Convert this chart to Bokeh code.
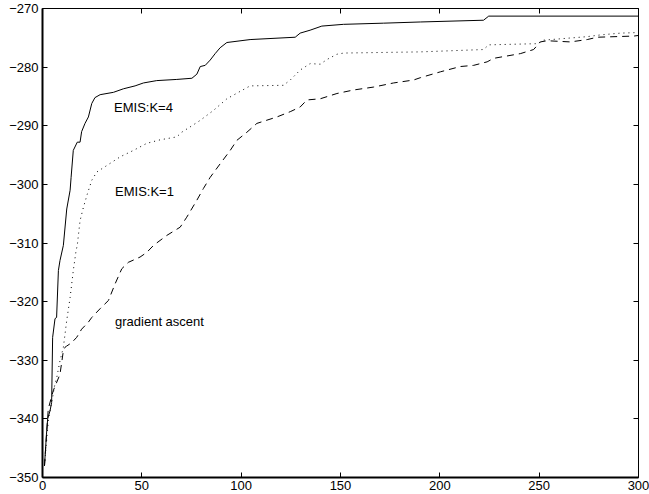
from bokeh.plotting import figure
from bokeh.models import Range1d, LinearAxis, FixedTicker, ColumnDataSource
from bokeh.core.properties import value
from bokeh.embed import file_html
from bokeh.resources import INLINE

# ---- data ----
k4_x = [1, 2, 2.6, 3.8, 4.6, 5.1, 6.3, 7.1, 8.0, 8.8, 10.5, 12.2, 13.9, 14.4, 15.5, 17.5, 18.9, 19.7,
        21.4, 23.1, 24.8, 26.4, 29, 35.7, 40.7, 46.6, 50.8, 57.5, 67.6, 75.2, 77.7, 79.4, 81.9, 84.4,
        86.9, 89.4, 92.8, 104.5, 127.2, 129.7, 134.7, 140.6, 151.5, 171.7, 190.2, 222, 224.6, 300]
k4_y = [-348, -342.6, -340, -338.6, -337.2, -326.1, -322.9, -322.7, -314.7, -313, -310.4, -304.2, -301,
        -298.8, -294.2, -292.8, -292.8, -291, -289.6, -288.5, -286.2, -285.2, -284.7, -284.3, -283.7,
        -283.2, -282.7, -282.3, -282.1, -281.9, -281.2, -279.9, -279.7, -278.8, -277.7, -276.7, -275.8,
        -275.3, -274.9, -274.2, -273.7, -273, -272.7, -272.5, -272.3, -272, -271.3, -271.3]

k1_x = [1, 3, 5, 6, 7.2, 8.8, 10.5, 12.2, 13.9, 15.5, 16.9, 17.5, 18.9, 20.6, 22.6, 24.8, 27.3, 32.3,
        39.1, 45.8, 52.5, 59.2, 67.6, 70.1, 74.3, 79.3, 86.0, 92.8, 99.7, 104.5, 121.3, 124.7, 129.7,
        134.7, 139.8, 143.2, 148.2, 151.6, 190.2, 222, 224.6, 249, 252.3, 274.2, 281, 291, 300]
k1_y = [-348, -340, -336.5, -334.5, -332.9, -330.1, -327.8, -323.2, -319.3, -314.7, -311.3, -310.4,
        -306.2, -303.9, -301.6, -299.3, -297.9, -296.8, -295.3, -294.2, -293.0, -292.4, -291.9, -291.1,
        -290.2, -289.1, -287.4, -285.4, -284.1, -283.2, -283.1, -282.2, -280.5, -279.4, -279.5, -278.7,
        -277.8, -277.6, -277.4, -277.0, -276.2, -276.0, -275.4, -274.8, -274.5, -274.2, -274.1]

ga_x = [1, 2.9, 5.4, 8.8, 10.5, 11.3, 12.1, 14.7, 17.2, 19.7, 23.1, 24.8, 29.0, 33.2, 36.5, 39.9, 43.2,
        49.1, 52.5, 55.9, 62.6, 69.3, 72.6, 77.7, 81.0, 84.4, 89.4, 94.5, 97.8, 102.9, 107.9, 118, 124.7,
        129.7, 133.1, 139.8, 148.2, 156.6, 166.7, 176.7, 186.8, 190.2, 200.3, 210.3, 217, 223.8, 227.1,
        240.5, 247.2, 250.6, 254, 265.7, 274.2, 279.2, 297.7, 300]
ga_y = [-348, -338.3, -335.2, -332.4, -328.4, -327.8, -327.6, -327.0, -326.1, -324.7, -323.5, -322.7,
        -321.2, -319.8, -317.0, -314.4, -313.3, -312.4, -311.6, -310.4, -308.7, -307.3, -305.6, -302.7,
        -300.7, -298.8, -296.5, -294.2, -292.5, -291.1, -289.6, -288.5, -287.6, -286.8, -285.6, -285.4,
        -284.5, -283.9, -283.4, -282.7, -282.2, -281.8, -280.8, -279.9, -279.7, -279.1, -278.5, -277.7,
        -277.0, -275.7, -275.5, -275.7, -275.3, -274.9, -274.7, -274.6]

x_ticks = [0, 50, 100, 150, 200, 250, 300]
y_ticks = [-350, -340, -330, -320, -310, -300, -290, -280, -270]
y_tick_labels = ["\u2212350", "\u2212340", "\u2212330", "\u2212320", "\u2212310",
                 "\u2212300", "\u2212290", "\u2212280", "\u2212270"]

label_texts = ["EMIS:K=4", "EMIS:K=1", "gradient ascent"]
label_x = [36.0, 36.5, 36.5]
label_y = [-286.9, -301.2, -323.4]

FONT = "Liberation Sans"

p = figure(width=649, height=494, output_backend="svg", toolbar_location=None,
           x_range=Range1d(0, 300), y_range=Range1d(-350, -270),
           x_axis_location=None, y_axis_location=None,
           min_border_left=42, min_border_right=11, min_border_top=8, min_border_bottom=17)
p.outline_line_color = None
p.xgrid.visible = False
p.ygrid.visible = False
p.background_fill_color = "white"
p.border_fill_color = "white"

def make_axis(ticks, show_labels, lw, overrides=None, standoff=4):
    ax = LinearAxis(ticker=FixedTicker(ticks=ticks))
    ax.major_tick_in = 5
    ax.major_tick_out = 0
    ax.minor_tick_line_color = None
    ax.axis_line_width = lw
    ax.major_tick_line_width = 1
    ax.axis_line_color = "black"
    ax.major_tick_line_color = "black"
    ax.major_label_standoff = standoff
    if show_labels:
        ax.major_label_text_font = FONT
        ax.major_label_text_font_size = "13px"
        ax.major_label_text_color = "black"
        if overrides:
            ax.major_label_overrides = overrides
    else:
        ax.major_label_text_color = None
        ax.major_label_text_alpha = 0
        ax.major_label_text_font_size = "1px"
        ax.major_label_standoff = 0
    return ax

p.add_layout(make_axis(x_ticks, True, 2, standoff=3), "below")
p.add_layout(make_axis(y_ticks, True, 2, dict(zip(y_ticks, y_tick_labels)), standoff=4), "left")
p.add_layout(make_axis(x_ticks, False, 1), "above")
p.add_layout(make_axis(y_ticks, False, 1), "right")

p.line(k4_x, k4_y, line_color="black", line_width=1)
p.line(k1_x, k1_y, line_color="black", line_width=1, line_dash="1 4")
p.line(ga_x, ga_y, line_color="black", line_width=1, line_dash="7 5")

src = ColumnDataSource(dict(x=label_x, y=label_y, t=label_texts))
p.text(x="x", y="y", text="t", source=src, text_font=value(FONT), text_font_size="13px",
       text_align="left", text_baseline="middle", text_color="black")

open("out.html", "w").write(file_html(p, INLINE))
